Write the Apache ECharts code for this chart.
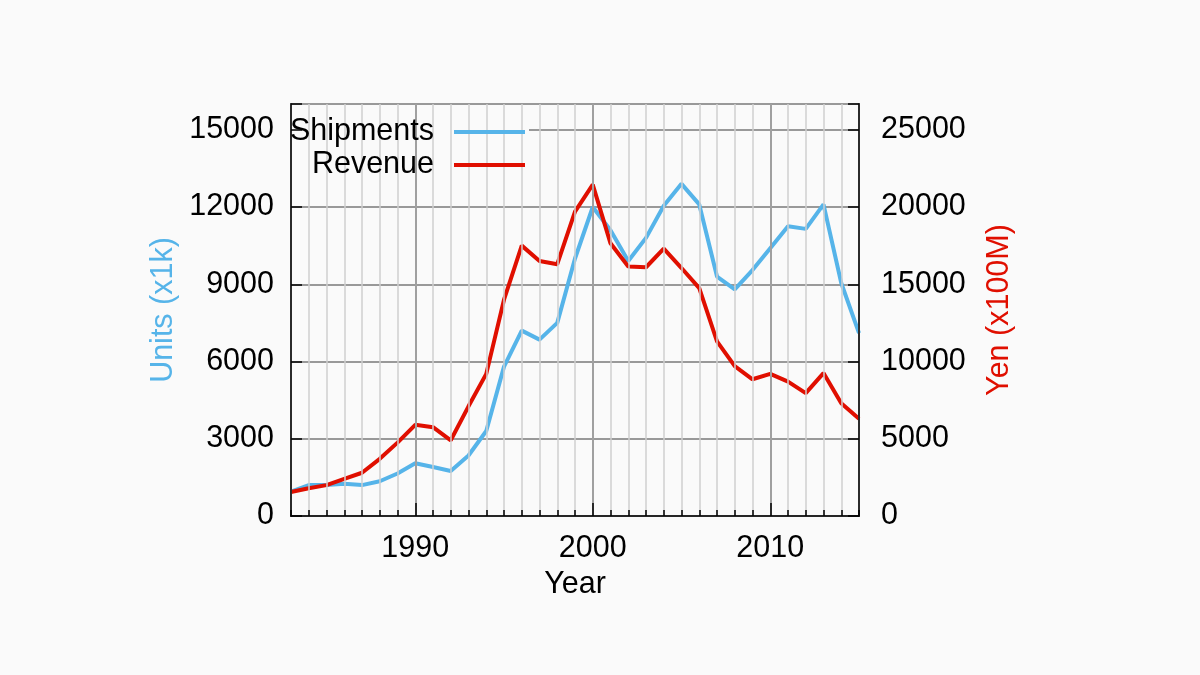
<!DOCTYPE html>
<html>
<head>
<meta charset="utf-8">
<script src="https://cdn.jsdelivr.net/npm/echarts@6/dist/echarts.min.js"></script>
<style>
html,body{margin:0;padding:0;background:#fafafa;}
#chart{width:1200px;height:675px;}
</style>
</head>
<body>
<div id="chart"></div>
<script>
var years = [1983,1984,1985,1986,1987,1988,1989,1990,1991,1992,1993,1994,1995,1996,1997,1998,1999,2000,2001,2002,2003,2004,2005,2006,2007,2008,2009,2010,2011,2012,2013,2014,2015];
var shipments = [950,1200,1200,1250,1200,1350,1650,2050,1900,1750,2350,3300,5800,7200,6850,7500,10000,12000,11100,9900,10800,12050,12900,12100,9300,8800,9550,10400,11250,11150,12100,9050,7100];
var revenue = [1550,1800,2000,2400,2800,3700,4750,5900,5750,4900,7100,9200,14000,17500,16500,16300,19700,21450,17650,16150,16100,17300,16050,14750,11300,9700,8850,9200,8700,7950,9250,7300,6300];
var leftTicks = [0,3000,6000,9000,12000,15000];
var rightTicks = [0,5000,10000,15000,20000,25000];
var yearLabels = [1990,2000,2010];

var FONT = "'Liberation Sans', Arial, sans-serif";
var FS = 30.5;
var BLUE = '#56B4E9';
var RED = '#E00F00';

function isDecade(idx, val){ return yearLabels.indexOf(Number(val)) >= 0; }

var chart = echarts.init(document.getElementById('chart'));
chart.setOption({
  animation: false,
  backgroundColor: '#fafafa',
  textStyle: {fontFamily: FONT},
  grid: {left: 291, right: 341, top: 104, bottom: 159, show: true, borderColor: '#000', borderWidth: 1.5, backgroundColor: 'transparent'},
  graphic: [{type: 'rect', shape: {x: 292, y: 105, width: 237, height: 73}, style: {fill: '#fafafa'}, z: 1, silent: true}],
  legend: [
    {data: ['Shipments'], right: 675, top: 116, align: 'right', orient: 'vertical', padding: 0,
     icon: 'rect', itemWidth: 71, itemHeight: 4, z: 5,
     textStyle: {fontFamily: FONT, fontSize: FS, color: '#000', lineHeight: 32, padding: [0, 15, 0, 0]}},
    {data: ['Revenue'], right: 675, top: 149, align: 'right', orient: 'vertical', padding: 0,
     icon: 'rect', itemWidth: 71, itemHeight: 4, z: 5,
     textStyle: {fontFamily: FONT, fontSize: FS, color: '#000', lineHeight: 32, padding: [0, 15, 0, 0]}}
  ],
  xAxis: [
    {type: 'category', data: years, boundaryGap: false, position: 'bottom', z: 3,
     axisLine: {show: true, lineStyle: {color: '#000', width: 1.5}},
     axisTick: {show: true, inside: true, length: 6, interval: 0, lineStyle: {color: '#000', width: 1.5}},
     axisLabel: {show: false},
     splitLine: {show: true, interval: 0, lineStyle: {color: '#cfcfcf', width: 1.5}}},
    {type: 'category', data: years, boundaryGap: false, position: 'bottom', z: 3,
     name: 'Year', nameLocation: 'middle', nameGap: 50,
     nameTextStyle: {fontFamily: FONT, fontSize: FS, color: '#000'},
     axisLine: {show: false},
     axisTick: {show: true, inside: true, length: 13, interval: isDecade, lineStyle: {color: '#000', width: 1.5}},
     axisLabel: {show: true, interval: isDecade, margin: 17, fontFamily: FONT, fontSize: FS, color: '#000'},
     splitLine: {show: true, interval: isDecade, lineStyle: {color: '#a0a0a0', width: 2}}}
  ],
  yAxis: [
    {type: 'value', position: 'left', min: 0, max: 16000, interval: 3000, z: 3,
     name: 'Units (x1k)', nameLocation: 'middle', nameGap: 112, nameRotate: 90,
     nameTextStyle: {fontFamily: FONT, fontSize: FS, color: BLUE},
     axisLine: {show: true, lineStyle: {color: '#000', width: 1.5}},
     axisTick: {show: true, inside: true, length: 11, lineStyle: {color: '#000', width: 1.5}},
     axisLabel: {margin: 17, fontFamily: FONT, fontSize: FS, color: '#000',
       formatter: function(v){ return leftTicks.indexOf(v) >= 0 ? String(v) : ''; }},
     splitLine: {show: false}},
    {type: 'value', position: 'right', min: 0, max: 80000/3, interval: 5000, z: 3,
     name: 'Yen (x100M)', nameLocation: 'middle', nameGap: 125, nameRotate: 90,
     nameTextStyle: {fontFamily: FONT, fontSize: FS, color: RED},
     axisLine: {show: true, lineStyle: {color: '#000', width: 1.5}},
     axisTick: {show: true, inside: true, length: 11, lineStyle: {color: '#000', width: 1.5}},
     axisLabel: {margin: 22, fontFamily: FONT, fontSize: FS, color: '#000',
       formatter: function(v){ return rightTicks.indexOf(v) >= 0 ? String(v) : ''; }},
     splitLine: {show: false}},
    {type: 'value', position: 'left', min: 0, max: 16000, interval: 3000, z: 0,
     axisLine: {show: false}, axisTick: {show: false}, axisLabel: {show: false},
     splitLine: {show: true, lineStyle: {color: '#999999', width: 1.8}}}
  ],
  series: [
    {name: 'Shipments', type: 'line', xAxisIndex: 0, yAxisIndex: 0, data: shipments,
     symbol: 'none', z: 2, color: BLUE, lineStyle: {color: BLUE, width: 4}},
    {name: 'Revenue', type: 'line', xAxisIndex: 0, yAxisIndex: 1, data: revenue,
     symbol: 'none', z: 2, color: RED, lineStyle: {color: RED, width: 4}}
  ]
});
</script>
</body>
</html>
